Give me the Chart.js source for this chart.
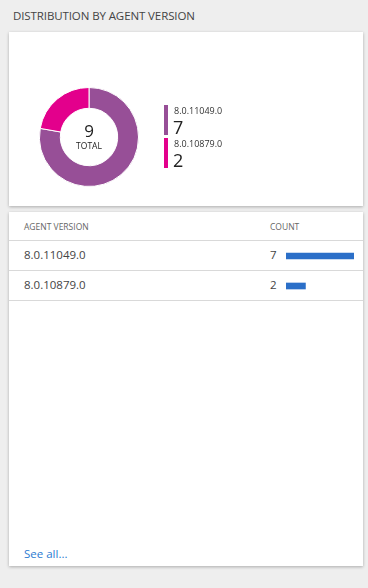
<!DOCTYPE html>
<html>
<head>
<meta charset="utf-8">
<script src="https://cdn.jsdelivr.net/npm/chart.js@4/dist/chart.umd.min.js"></script>
<style>
  html, body { margin: 0; padding: 0; }
  body { width: 368px; height: 588px; background: #eeeeee; font-family: "Open Sans", "Noto Sans", sans-serif; position: relative; overflow: hidden; }
  .title { position: absolute; left: 13px; top: 8px; font-size: 11.5px; color: #444; letter-spacing: -0.1px; }
  .card { position: absolute; left: 9px; width: 354px; background: #fff; box-shadow: 0 1px 3px rgba(0,0,0,0.28); }
  #card1 { top: 32px; height: 174px; }
  #card2 { top: 212px; height: 354px; }
  #donutWrap { position: absolute; left: 28px; top: 53px; width: 104px; height: 104px; }
  .center { position: absolute; left: 28px; top: 53px; width: 104px; text-align: center; pointer-events: none; }
  .center .num { position: absolute; top: 37px; width: 104px; font-size: 17px; color: #222; line-height: 1; }
  .center .lbl { position: absolute; top: 57px; width: 104px; font-size: 8.5px; color: #222; line-height: 1; }
  .legend { position: absolute; left: 155px; top: 73px; }
  .leg { position: relative; height: 33px; }
  .leg .sw { position: absolute; left: 0; top: 0; width: 4px; height: 30px; }
  .leg .name { position: absolute; left: 10px; top: 1px; font-size: 9px; line-height: 10px; color: #333; white-space: nowrap; }
  .leg .val { position: absolute; left: 9px; top: 15px; font-size: 18px; line-height: 15px; color: #222; }
  .th { position: absolute; top: 9px; font-size: 8.5px; color: #666; }
  .rowline { position: absolute; left: 0; width: 354px; height: 1px; background: #d9d9d9; }
  .cell { position: absolute; font-size: 11.5px; color: #444; }
  #barWrap { position: absolute; left: 277px; top: 29px; width: 68px; height: 60px; }
  .seeall { position: absolute; left: 15px; top: 334px; font-size: 11.5px; color: #2b7bd1; }
</style>
</head>
<body>
<div class="title">DISTRIBUTION BY AGENT VERSION</div>
<div class="card" id="card1">
  <div id="donutWrap"><canvas id="donut"></canvas></div>
  <div class="center"><div class="num" id="totalNum"></div><div class="lbl">TOTAL</div></div>
  <div class="legend" id="legend"></div>
</div>
<div class="card" id="card2">
  <div class="th" style="left:15px">AGENT VERSION</div>
  <div class="th" style="left:261px">COUNT</div>
  <div id="rows"></div>
  <div id="barWrap"><canvas id="bars"></canvas></div>
  <div class="seeall">See all...</div>
</div>
<script>
const versions = ["8.0.11049.0", "8.0.10879.0"];
const counts = [7, 2];
const sliceColors = ["#974f97", "#e3008c"];
const barColor = "#2b6fc8";

const total = counts.reduce((a, b) => a + b, 0);
document.getElementById("totalNum").textContent = total;

// legend
const legend = document.getElementById("legend");
versions.forEach((v, i) => {
  const d = document.createElement("div");
  d.className = "leg";
  d.innerHTML = `<div class="sw" style="background:${sliceColors[i]}"></div><div class="name">${v}</div><div class="val">${counts[i]}</div>`;
  legend.appendChild(d);
});

// table rows
const rows = document.getElementById("rows");
versions.forEach((v, i) => {
  const top = 29 + i * 30;
  rows.insertAdjacentHTML("beforeend",
    `<div class="rowline" style="top:${top - 1}px"></div>
     <div class="cell" style="left:15px;top:${top + 6}px">${v}</div>
     <div class="cell" style="left:261px;top:${top + 6}px">${counts[i]}</div>`);
});
rows.insertAdjacentHTML("beforeend", `<div class="rowline" style="top:${29 + versions.length * 30 - 1}px"></div>`);

new Chart(document.getElementById("donut"), {
  type: "doughnut",
  data: { labels: versions, datasets: [{ data: counts, backgroundColor: sliceColors, borderColor: "#fff", borderWidth: 1 }] },
  options: {
    responsive: true, maintainAspectRatio: false, animation: false, cutout: "58%",
    layout: { padding: 2 },
    plugins: { legend: { display: false }, tooltip: { enabled: false } }
  }
});

new Chart(document.getElementById("bars"), {
  type: "bar",
  data: { labels: versions, datasets: [{ data: counts, backgroundColor: barColor, barThickness: 6 }] },
  options: {
    indexAxis: "y", responsive: true, maintainAspectRatio: false, animation: false,
    layout: { padding: 0 },
    scales: {
      x: { display: false, min: 0, max: Math.max(...counts) },
      y: { display: false }
    },
    plugins: { legend: { display: false }, tooltip: { enabled: false } }
  }
});
</script>
</body>
</html>
